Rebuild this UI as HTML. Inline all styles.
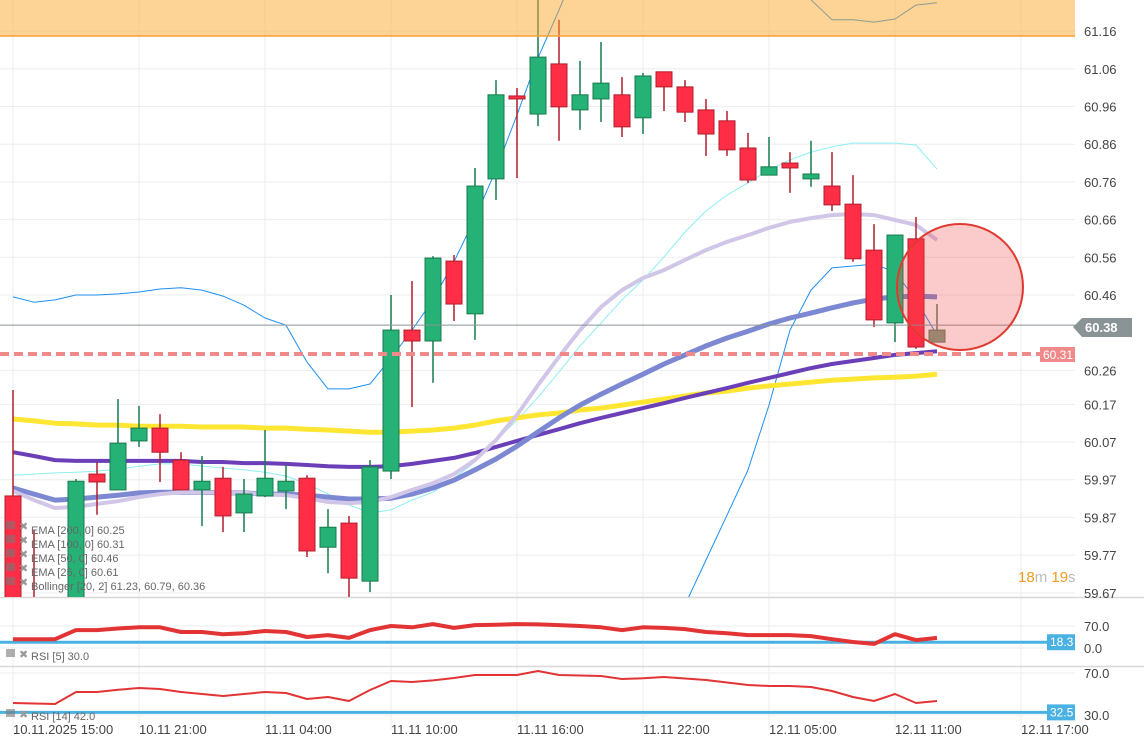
<!DOCTYPE html>
<html><head><meta charset="utf-8">
<style>
html,body{margin:0;padding:0;background:#fff;width:1144px;height:754px;overflow:hidden;}
svg{display:block;font-family:"Liberation Sans",sans-serif;}
</style></head>
<body>
<svg id="chart" width="1144" height="754" viewBox="0 0 1144 754"></svg>
<script>
const tickLabels=["61.16","61.06","60.96","60.86","60.76","60.66","60.56","60.46","60.26","60.17","60.07","59.97","59.87","59.77","59.67"];
const tickValues=[61.16,61.06,60.96,60.86,60.76,60.66,60.56,60.46,60.26,60.17,60.07,59.97,59.87,59.77,59.67];
const timeLabels=["10.11.2025  15:00","10.11  21:00","11.11  04:00","11.11  10:00","11.11  16:00","11.11  22:00","12.11  05:00","12.11  11:00","12.11  17:00"];
const openV=[59.927,59.651,59.545,59.611,59.985,59.943,60.073,60.107,60.022,59.943,59.974,59.882,59.927,59.940,59.974,59.791,59.855,59.701,59.993,60.367,60.338,60.550,60.410,60.768,60.988,60.940,61.073,60.951,60.980,60.991,60.930,61.052,61.012,60.951,60.922,60.850,60.778,60.810,60.768,60.749,60.701,60.579,60.386,60.609,60.335];
const highV=[60.208,59.837,59.560,59.972,60.017,60.184,60.166,60.144,60.043,60.033,60.004,59.972,60.102,60.009,59.982,59.892,59.874,60.022,60.460,60.497,60.563,60.566,60.797,61.030,61.009,61.300,61.190,61.081,61.131,61.038,61.049,61.052,61.030,60.980,60.948,60.890,60.879,60.839,60.869,60.839,60.778,60.648,60.619,60.667,60.436];
const lowV=[59.600,59.598,59.520,59.600,59.877,59.943,60.057,59.964,59.943,59.847,59.831,59.831,59.924,59.892,59.765,59.722,59.656,59.672,59.972,60.163,60.227,60.391,60.341,60.712,60.770,60.908,60.869,60.898,60.919,60.879,60.887,60.948,60.919,60.829,60.829,60.757,60.778,60.731,60.747,60.683,60.548,60.375,60.335,60.317,60.335];
const closeV=[59.620,59.598,59.520,59.966,59.964,60.067,60.107,60.043,59.943,59.966,59.874,59.932,59.974,59.966,59.781,59.844,59.709,60.004,60.367,60.338,60.558,60.436,60.749,60.991,60.980,61.091,60.959,60.991,61.022,60.906,61.041,61.012,60.945,60.887,60.845,60.765,60.800,60.797,60.781,60.699,60.556,60.394,60.619,60.322,60.367];
const ema200=[60.131,60.126,60.120,60.118,60.115,60.115,60.112,60.112,60.112,60.110,60.110,60.110,60.107,60.107,60.104,60.102,60.099,60.096,60.096,60.099,60.102,60.107,60.115,60.126,60.134,60.142,60.147,60.155,60.160,60.168,60.176,60.184,60.192,60.200,60.205,60.213,60.219,60.224,60.229,60.234,60.237,60.240,60.242,60.245,60.250];
const ema100=[60.043,60.033,60.022,60.020,60.020,60.020,60.020,60.020,60.020,60.017,60.017,60.014,60.014,60.012,60.009,60.006,60.004,60.004,60.006,60.012,60.020,60.028,60.041,60.057,60.073,60.089,60.104,60.120,60.134,60.147,60.160,60.173,60.187,60.200,60.213,60.227,60.240,60.253,60.266,60.277,60.285,60.293,60.301,60.306,60.311];
const ema50=[59.948,59.932,59.916,59.919,59.924,59.929,59.935,59.937,59.937,59.937,59.935,59.935,59.932,59.932,59.929,59.924,59.919,59.919,59.921,59.932,59.948,59.969,59.996,60.025,60.059,60.097,60.134,60.168,60.197,60.224,60.250,60.277,60.301,60.325,60.346,60.364,60.383,60.399,60.412,60.426,60.439,60.449,60.455,60.457,60.455];
const ema25=[59.940,59.916,59.895,59.898,59.906,59.913,59.924,59.932,59.937,59.937,59.935,59.935,59.932,59.929,59.921,59.911,59.908,59.911,59.924,59.943,59.961,59.985,60.022,60.075,60.142,60.221,60.296,60.367,60.428,60.473,60.505,60.526,60.553,60.579,60.601,60.619,60.638,60.654,60.664,60.672,60.675,60.672,60.659,60.646,60.606];
const bbMid=[59.982,59.985,59.988,59.990,59.993,59.998,60.006,60.012,60.012,60.006,60.001,59.996,59.990,59.980,59.959,59.932,59.903,59.882,59.890,59.916,59.937,59.974,60.017,60.075,60.128,60.189,60.256,60.325,60.386,60.447,60.500,60.561,60.627,60.683,60.725,60.757,60.792,60.818,60.839,60.853,60.863,60.863,60.863,60.858,60.794];
const bbUp=[60.455,60.441,60.447,60.460,60.460,60.463,60.468,60.476,60.479,60.473,60.457,60.433,60.399,60.380,60.282,60.211,60.211,60.224,60.293,60.367,60.447,60.548,60.664,60.792,60.938,61.089,61.216,61.349,61.455,61.534,61.588,61.588,61.561,61.508,61.455,61.389,61.323,61.274,61.243,61.190,61.190,61.184,61.192,61.229,61.235];
const bbLow=[59.35,59.30,59.26,59.22,59.18,59.15,59.13,59.12,59.12,59.11,59.10,59.08,59.06,59.05,59.03,59.00,58.97,58.95,58.96,58.99,59.02,59.05,59.08,59.10,59.14,59.18,59.22,59.28,59.34,59.40,59.47,59.54,59.638,59.757,59.876,59.996,60.168,60.367,60.473,60.532,60.537,60.542,60.521,60.447,60.354];
const rsi5=[28,28,28,57,57,62,66,66,51,51,44,47,54,51,35,41,32,57,70,66,76,64,73,74,76,75,73,70,66,57,66,64,60,51,47,41,41,41,38,28,19,13,44,25,32];
const rsi14=[41.4,41,40.5,51.9,51.9,54,55.7,54.8,51.9,50,48.1,50,51.9,51,45.2,47.1,43.3,53.8,62.4,61.4,63,65.2,68.1,68.1,68.1,71.9,68.1,67.6,67.1,64.3,65,66.2,64.8,63.3,61,58.6,57.6,57.6,56.7,52.9,47.1,43.3,50,41.4,43.3];

const NS="http://www.w3.org/2000/svg";
const svg=document.getElementById('chart');
function mk(tag,attrs,parent){const e=document.createElementNS(NS,tag);for(const k in attrs)e.setAttribute(k,attrs[k]);(parent||svg).appendChild(e);return e;}
const PR=1075, PB=597;
const xOf=i=>13+21*i;
const yOf=v=>295-(v-60.46)*377;
const yR5=v=>648-v*(22/70);
const yR14=v=>715-(v-30)*1.05;

const defs=mk('defs',{});
const cp=mk('clipPath',{id:'main'},defs);mk('rect',{x:0,y:0,width:PR,height:PB},cp);

const grid=mk('g',{});


tickValues.forEach(v=>mk('line',{x1:0,x2:PR,y1:yOf(v),y2:yOf(v),stroke:'#eeeeee','stroke-width':1},grid));
[0,1,2,3,4,5,6,7,8].forEach(k=>mk('line',{x1:13+126*k,x2:13+126*k,y1:0,y2:730,stroke:'#eeeeee','stroke-width':1},grid));
[626,648,673,715].forEach(y=>mk('line',{x1:0,x2:PR,y1:y,y2:y,stroke:'#eeeeee','stroke-width':1},grid));
mk('line',{x1:0,x2:1144,y1:597.5,y2:597.5,stroke:'#d8d8d8','stroke-width':1.5});
mk('line',{x1:0,x2:1144,y1:666.5,y2:666.5,stroke:'#d8d8d8','stroke-width':1.5});

const main=mk('g',{'clip-path':'url(#main)'});



function line(arr,color,w,name,op){
  const pts=arr.map((v,i)=>xOf(i)+','+yOf(v).toFixed(1)).join(' ');
  const p=mk('polyline',{points:pts,fill:'none',stroke:color,'stroke-width':w,'stroke-linejoin':'round','stroke-opacity':op||1},main);
  
  
}
line(bbLow,'#1e8ff0',1,'bollinger-lower');
line(bbUp,'#1e8ff0',1,'bollinger-upper');
line(bbMid,'#8eeef2',1,'bollinger-middle');
line(ema200,'#ffe632',5,'ema-200-line');
line(ema100,'#6a3fb8',4,'ema-100-line');
line(ema50,'#7c88d2',5,'ema-50-line');
line(ema25,'#d2c6e8',4,'ema-25-line');

openV.forEach((o,i)=>{
  const c=closeV[i],x=xOf(i);
  const up=c>=o, last=i===openV.length-1;
  const fill=last?'#7f9f80':(up?'#26b276':'#ff2d46');
  const st=last?'#5d7d5e':(up?'#177a4c':'#b01e2c');
  const g=mk('g',{},main);
  
  
  mk('line',{x1:x,x2:x,y1:yOf(highV[i]),y2:yOf(lowV[i]),stroke:st,'stroke-width':1.5},g);
  const t=yOf(Math.max(o,c)),b=yOf(Math.min(o,c));
  mk('rect',{x:x-8,y:t,width:16,height:Math.max(b-t,2),fill:fill,stroke:st,'stroke-width':1},g);
});

const zone=mk('rect',{x:0,y:0,width:PR,height:36,fill:'rgba(252,168,45,0.5)'});


mk('line',{x1:0,x2:PR,y1:36,y2:36,stroke:'#f6a033','stroke-width':1.5});

mk('line',{x1:0,x2:PR,y1:yOf(60.38),y2:yOf(60.38),stroke:'#8a9396','stroke-width':1});
const dash=mk('line',{x1:0,x2:1040,y1:354,y2:354,stroke:'#f08a8a','stroke-width':4,'stroke-dasharray':'9,5'});



const circ=mk('circle',{cx:960,cy:287,r:63,fill:'rgba(240,70,70,0.28)',stroke:'#e03a30','stroke-width':2});



tickValues.forEach((v,i)=>{
  const t=mk('text',{x:1084,y:yOf(v)+5,'font-size':13,fill:'#444'});
  t.textContent=tickLabels[i];
  
  
});
const pl=mk('g',{});


mk('path',{d:'M1073,327 L1082,318 L1132,318 L1132,337 L1082,337 Z',fill:'#8a9396'},pl);
const plt=mk('text',{x:1085,y:332,'font-size':13,fill:'#fff','font-weight':'bold'},pl);plt.textContent='60.38';
const sl=mk('g',{});


mk('rect',{x:1040,y:347,width:35,height:15,fill:'#f08a8a'},sl);
const slt=mk('text',{x:1043,y:359,'font-size':12,fill:'#fff'},sl);slt.textContent='60.31';

const cd=mk('text',{x:1018,y:582,'font-size':15});


cd.innerHTML='<tspan fill="#f39a1e">18</tspan><tspan fill="#bbb">m </tspan><tspan fill="#f39a1e">19</tspan><tspan fill="#bbb">s</tspan>';

const legTexts=["EMA  [200,  0]  60.25","EMA  [100,  0]  60.31","EMA  [50,  0]  60.46","EMA  [25,  0]  60.61","Bollinger  [20,  2]  61.23,  60.79,  60.36"];
legTexts.forEach((s,i)=>{
  const y=530+14*i;
  const g=mk('g',{});
  
  
  mk('rect',{x:6,y:y-9,width:9,height:8,fill:'rgba(120,120,120,0.6)'},g);
  const x=mk('text',{x:19,y:y,'font-size':11,fill:'#999'},g);x.textContent='✖';
  const t=mk('text',{x:31,y:y+4,'font-size':11,fill:'#666','xml:space':'preserve'},g);t.textContent=s;
});

function rsiLine(arr,fy,w,name){
  const pts=arr.map((v,i)=>xOf(i)+','+fy(v).toFixed(1)).join(' ');
  const p=mk('polyline',{points:pts,fill:'none',stroke:'#e23434','stroke-width':w,'stroke-linejoin':'round'});
  
  
}
mk('line',{x1:0,x2:PR,y1:yR5(18.3),y2:yR5(18.3),stroke:'#4ab2e2','stroke-width':3});
rsiLine(rsi5,yR5,4,'rsi-5-line');
mk('line',{x1:0,x2:PR,y1:yR14(32.5),y2:yR14(32.5),stroke:'#4ab2e2','stroke-width':3});
rsiLine(rsi14,yR14,2,'rsi-14-line');
[[1047,yR5(18.3)-8,'18.3'],[1047,yR14(32.5)-8,'32.5']].forEach(a=>{
  const g=mk('g',{});
  
  
  mk('rect',{x:a[0],y:a[1],width:28,height:16,fill:'#4ab2e2'},g);
  const t=mk('text',{x:a[0]+3,y:a[1]+12,'font-size':12,fill:'#fff'},g);t.textContent=a[2];
});
[[626,'70.0'],[648,'0.0'],[673,'70.0'],[715,'30.0']].forEach(a=>{
  const t=mk('text',{x:1084,y:a[0]+5,'font-size':13,fill:'#444'});t.textContent=a[1];
  
  
});
[[658,'RSI  [5]  30.0'],[718,'RSI  [14]  42.0']].forEach(a=>{
  const g=mk('g',{});
  
  
  mk('rect',{x:6,y:a[0]-9,width:9,height:8,fill:'rgba(120,120,120,0.6)'},g);
  const x=mk('text',{x:19,y:a[0],'font-size':11,fill:'#999'},g);x.textContent='✖';
  const t=mk('text',{x:31,y:a[0]+2,'font-size':11,fill:'#666','xml:space':'preserve'},g);t.textContent=a[1];
});

timeLabels.forEach((s,k)=>{
  const t=mk('text',{x:13+126*k,y:734,'font-size':13,fill:'#444','xml:space':'preserve'});
  t.textContent=s;
  
  
});
</script>
</body></html>
